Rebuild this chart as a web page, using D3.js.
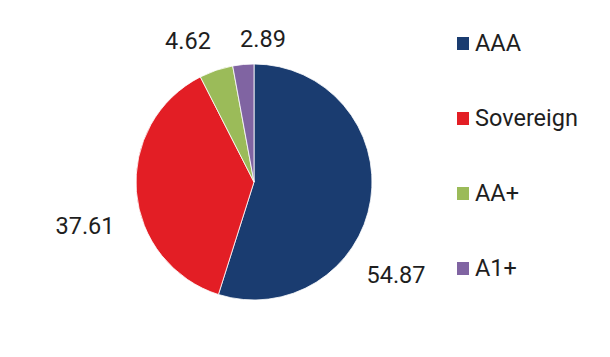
<!DOCTYPE html>
<html><head><meta charset="utf-8">
<script src="https://cdn.jsdelivr.net/npm/d3@7"></script>
<style>body{margin:0;background:#fff}svg{display:block;font-family:Roboto,"Noto Sans",sans-serif}</style>
</head><body>
<svg id="c" width="610" height="357"></svg>
<script>
const categories = ["AAA", "Sovereign", "AA+", "A1+"];
const values = [54.87, 37.61, 4.62, 2.89];
const valueLabels = ["54.87", "37.61", "4.62", "2.89"];
const colors = ["#1a3c70", "#e31e25", "#9bbb59", "#8064a2"];
// label layout (text centres)
const labelPos = [[396, 275], [85, 226], [188, 41], [263, 39]];

const svg = d3.select("#c");
const cx = 254, cy = 182, r = 118;
const pie = d3.pie().sort(null).value(d => d)(values);
const arc = d3.arc().innerRadius(0).outerRadius(r);
const g = svg.append("g").attr("transform", `translate(${cx},${cy})`);
g.selectAll("path").data(pie).join("path")
  .attr("d", arc).attr("fill", (d, i) => colors[i])
  .attr("stroke", "#fff").attr("stroke-width", 0.8);

svg.selectAll("text.lbl").data(pie).join("text").attr("class", "lbl")
  .attr("x", (d, i) => labelPos[i][0]).attr("y", (d, i) => labelPos[i][1])
  .attr("text-anchor", "middle").attr("dominant-baseline", "central")
  .attr("font-size", 23.5).attr("fill", "#1e1e1e")
  .text((d, i) => valueLabels[i]);

const legY = d3.scalePoint().domain(categories).range([43, 268]);
const leg = svg.selectAll("g.leg").data(categories).join("g").attr("class", "leg")
  .attr("transform", d => `translate(457,${legY(d)})`);
leg.append("rect").attr("x", 0).attr("y", -6).attr("width", 12).attr("height", 13)
  .attr("fill", (d, i) => colors[i]);
leg.append("text").attr("x", 18).attr("y", 0).attr("dominant-baseline", "central")
  .attr("font-size", 23.5).attr("fill", "#1e1e1e").text(d => d);
</script>
</body></html>
